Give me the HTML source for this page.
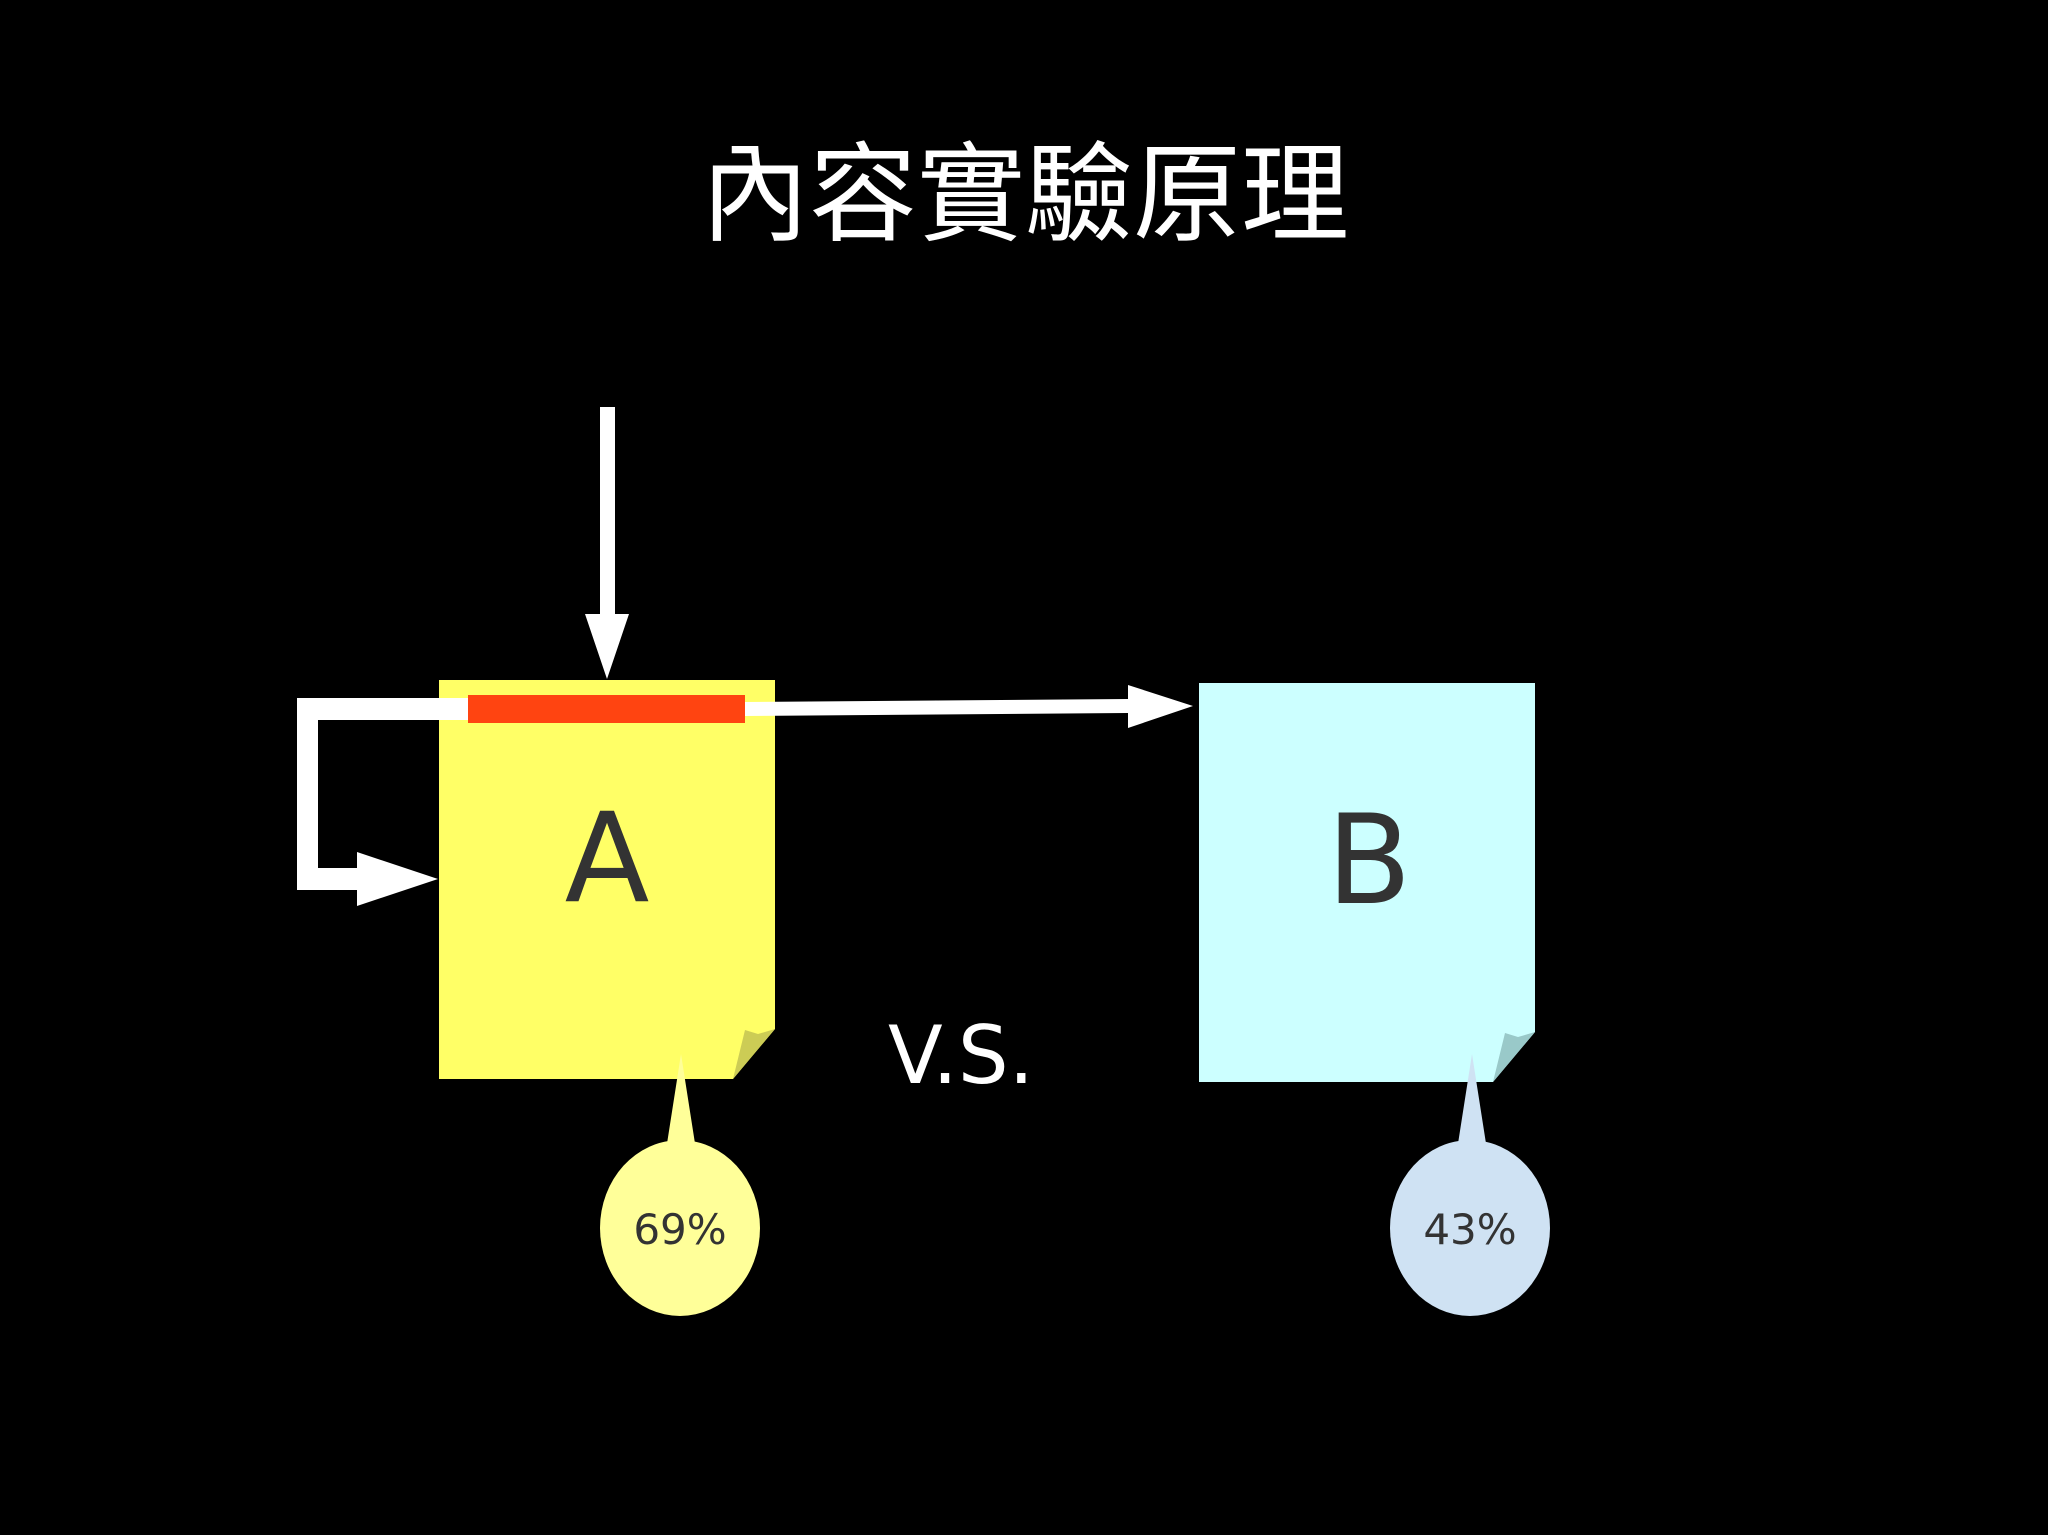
<!DOCTYPE html>
<html><head><meta charset="utf-8"><style>
html,body{margin:0;padding:0;background:#000;}
svg{display:block}
</style></head><body>
<svg width="2048" height="1535" viewBox="0 0 2048 1535" xmlns="http://www.w3.org/2000/svg">
<rect width="2048" height="1535" fill="#000"/>
<text x="1025" y="232" text-anchor="middle" font-family="'Liberation Sans','Noto Sans CJK TC',sans-serif" font-size="108" fill="#fff">內容實驗原理</text>
<!-- Box A -->
<polygon points="439,680 775,680 775,1029 733,1079 439,1079" fill="#ffff66"/>
<polygon points="733,1079 745,1030 758,1034 775,1029" fill="#cccc55"/>
<text x="607" y="901" text-anchor="middle" font-family="'DejaVu Sans','Liberation Sans',sans-serif" font-size="124" fill="#333">A</text>
<!-- Box B -->
<polygon points="1199,683 1535,683 1535,1032 1493,1082 1199,1082" fill="#ccffff"/>
<polygon points="1493,1082 1505,1033 1518,1037 1535,1032" fill="#99c9c9"/>
<text x="1369" y="903" text-anchor="middle" font-family="'DejaVu Sans','Liberation Sans',sans-serif" font-size="124" fill="#333">B</text>
<!-- loop arrow -->
<polygon points="468,698 297,698 297,890 357,890 357,906 438,879 357,852 357,868 318,868 318,720 468,720" fill="#fff"/>
<!-- horizontal arrow -->
<polygon points="745,702 1128,699 1128,685 1193,706 1128,728 1128,713 745,716" fill="#fff"/>
<!-- red bar -->
<rect x="468" y="695" width="277" height="28" fill="#ff4411"/>
<!-- vertical arrow -->
<polygon points="600,407 615,407 615,614 629,614 607,679 585,614 600,614" fill="#fff"/>
<text x="961" y="1083" text-anchor="middle" font-family="'DejaVu Sans','Liberation Sans',sans-serif" font-size="80" fill="#fff">V.S.</text>
<!-- bubble A -->
<polygon points="681,1054 666,1150 696,1150" fill="#ffff99"/>
<ellipse cx="680" cy="1228" rx="80" ry="88" fill="#ffff99"/>
<text x="680" y="1244" text-anchor="middle" font-family="'DejaVu Sans','Liberation Sans',sans-serif" font-size="42" fill="#333">69%</text>
<!-- bubble B -->
<polygon points="1472,1054 1457,1150 1487,1150" fill="#cfe2f3"/>
<ellipse cx="1470" cy="1228" rx="80" ry="88" fill="#cfe2f3"/>
<text x="1470" y="1244" text-anchor="middle" font-family="'DejaVu Sans','Liberation Sans',sans-serif" font-size="42" fill="#333">43%</text>
</svg>
</body></html>
